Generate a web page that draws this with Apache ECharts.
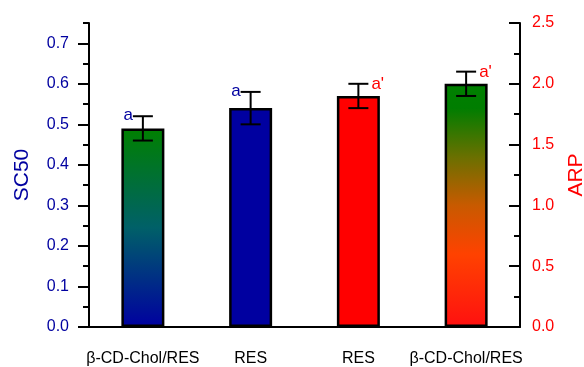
<!DOCTYPE html>
<html>
<head>
<meta charset="utf-8">
<script src="https://cdn.jsdelivr.net/npm/echarts@6/dist/echarts.min.js"></script>
<style>html,body{margin:0;padding:0;background:#fff;}#c{width:584px;height:367px;}</style>
</head>
<body>
<div id="c"></div>
<script>
// ---- data ----
var categories = ['β-CD-Chol/RES', 'RES', 'RES', 'β-CD-Chol/RES'];
var sc50Values = [0.49, 0.54, '-', '-'];
var sc50Errors = [0.03, 0.04];
var sc50Letters = ['a', 'a'];
var arpValues = ['-', '-', 1.9, 2.0];
var arpErrors = [0.1, 0.1];
var arpLetters = ["a'", "a'"];
var leftMajorTicks = [0, 0.1, 0.2, 0.3, 0.4, 0.5, 0.6, 0.7];

var FONT = 'Liberation Sans, Arial, sans-serif';
var BLUE = '#0000a0';
var RED = '#ff0000';

function grad(stops) {
  return new echarts.graphic.LinearGradient(0, 0, 0, 1, stops.map(function (s) { return { offset: s[0], color: s[1] }; }));
}
var barColors = [
  grad([[0, '#008000'], [0.5, '#006068'], [1, '#0000a0']]),
  BLUE,
  RED,
  grad([[0, '#008000'], [0.1, '#007d00'], [0.3, '#6a7000'], [0.5, '#c85a00'], [0.7, '#ff4200'], [1, '#ff1010']])
];

var catKeys = categories.map(function (c, i) { return String(i); });

function makeBarData(vals) {
  return vals.map(function (v, i) {
    if (v === '-') return '-';
    return { value: v, itemStyle: { color: barColors[i] } };
  });
}

function errData(vals, errs, offset) {
  var out = [];
  for (var i = 0; i < errs.length; i++) {
    out.push([i + offset, vals[i + offset], errs[i]]);
  }
  return out;
}

function makeErrRender(side, color, letters) {
  return function (params, api) {
    var x = api.value(0), v = api.value(1), e = api.value(2);
    var letter = letters[params.dataIndex];
    var top = api.coord([x, v + e]);
    var bot = api.coord([x, v - e]);
    var hw = 10;
    var st = { stroke: '#000', lineWidth: 2 };
    var txt;
    if (side === 'left') {
      txt = { type: 'text', style: { text: letter, x: top[0] - hw - 0, y: top[1] + 8, align: 'right', verticalAlign: 'bottom', fill: color, font: '17px ' + FONT } };
    } else {
      txt = { type: 'text', style: { text: letter, x: top[0] + hw + 3, y: top[1] + 1, align: 'left', verticalAlign: 'middle', fill: color, font: '17px ' + FONT } };
    }
    return {
      type: 'group',
      children: [
        { type: 'line', shape: { x1: top[0], y1: top[1], x2: bot[0], y2: bot[1] }, style: st },
        { type: 'line', shape: { x1: top[0] - hw, y1: top[1], x2: top[0] + hw, y2: top[1] }, style: st },
        { type: 'line', shape: { x1: bot[0] - hw, y1: bot[1], x2: bot[0] + hw, y2: bot[1] }, style: st },
        txt
      ]
    };
  };
}

var chart = echarts.init(document.getElementById('c'), null, { renderer: 'canvas' });
chart.setOption({
  animation: false,
  backgroundColor: '#fff',
  textStyle: { fontFamily: FONT },
  grid: { left: 89, right: 64, top: 23, bottom: 40, containLabel: false, outerBoundsMode: 'none' },
  xAxis: {
    type: 'category',
    data: catKeys,
    axisLine: { lineStyle: { color: '#000', width: 2 } },
    axisTick: { show: false },
    axisLabel: {
      color: '#000', fontSize: 16, fontFamily: FONT, margin: 24, interval: 0,
      formatter: function (v) { return categories[+v]; }
    },
    splitLine: { show: false }
  },
  yAxis: [
    {
      type: 'value', position: 'left', min: 0, max: 0.75, interval: 0.05,
      name: 'SC50', nameLocation: 'middle', nameGap: 56, nameRotate: 90,
      nameTextStyle: { color: BLUE, fontSize: 21, fontFamily: FONT },
      axisLine: { show: true, lineStyle: { color: '#000', width: 2 } },
      axisTick: { show: true, length: 6, lineStyle: { color: '#000', width: 2 } },
      axisLabel: {
        color: BLUE, fontSize: 16, fontFamily: FONT, margin: 20,
        formatter: function (v) {
          var r = Math.round(v * 100);
          return (r % 10 === 0 && r <= 70) ? (r / 100).toFixed(1) : '';
        }
      },
      splitLine: { show: false }
    },
    {
      type: 'value', position: 'right', min: 0, max: 2.5, interval: 0.5,
      name: 'ARP', nameLocation: 'middle', nameGap: 46, nameRotate: 90,
      nameTextStyle: { color: RED, fontSize: 21, fontFamily: FONT },
      axisLine: { show: true, lineStyle: { color: '#000', width: 2 } },
      axisTick: { show: true, inside: true, length: 11, lineStyle: { color: '#000', width: 2 } },
      minorTick: { show: true, splitNumber: 2, length: 6, lineStyle: { color: '#000', width: 2 } },
      axisLabel: { color: RED, fontSize: 16, fontFamily: FONT, margin: 12, formatter: function (v) { return v.toFixed(1); } },
      splitLine: { show: false }
    },
    {
      type: 'value', position: 'left', min: 0, max: 0.75, interval: 0.1,
      axisLine: { show: false },
      axisTick: { show: true, length: 11, customValues: leftMajorTicks, lineStyle: { color: '#000', width: 2 } },
      axisLabel: { show: false },
      splitLine: { show: false }
    }
  ],
  series: [
    {
      type: 'bar', yAxisIndex: 0, barWidth: 43, barGap: '-100%',
      itemStyle: { borderColor: '#000', borderWidth: 2.5 },
      data: makeBarData(sc50Values)
    },
    {
      type: 'bar', yAxisIndex: 1, barWidth: 43, barGap: '-100%',
      itemStyle: { borderColor: '#000', borderWidth: 2.5 },
      data: makeBarData(arpValues)
    },
    {
      type: 'custom', yAxisIndex: 0, z: 5,
      renderItem: makeErrRender('left', BLUE, sc50Letters),
      data: errData(sc50Values, sc50Errors, 0)
    },
    {
      type: 'custom', yAxisIndex: 1, z: 5,
      renderItem: makeErrRender('right', RED, arpLetters),
      data: errData(arpValues, arpErrors, 2)
    }
  ]
});
</script>
</body>
</html>
